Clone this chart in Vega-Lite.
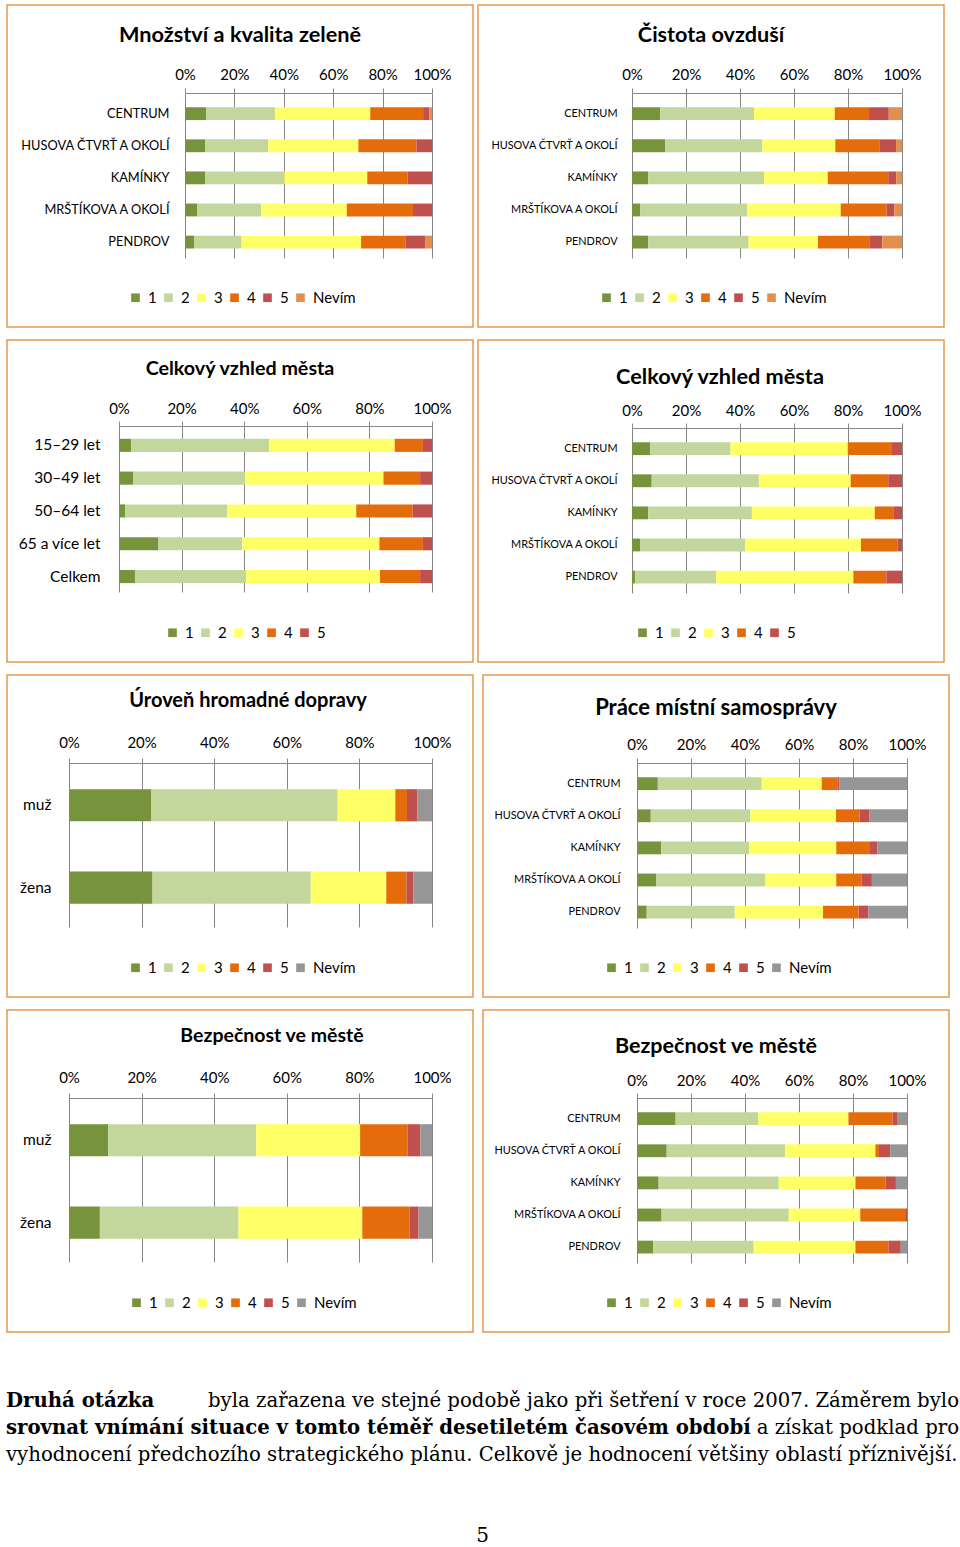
{
  "$schema": "https://vega.github.io/schema/vega-lite/v6.json",
  "padding": {"left": 6, "top": 4, "right": 0, "bottom": 0},
  "spacing": 11,
  "resolve": {"scale": {"color": "independent", "x": "independent", "y": "independent"}, "legend": {"color": "independent"}},
  "config": {
    "font": "Lato",
    "view": {"stroke": "#E39B50", "strokeWidth": 1.5},
    "axis": {"labelFont": "Lato", "labelColor": "#000000", "gridColor": "#868686", "domainColor": "#868686", "tickColor": "#868686", "labelFlush": false, "labelOverlap": false},
    "legend": {"labelFont": "Lato", "labelColor": "#000000"},
    "title": {"font": "Lato", "fontWeight": "bold", "color": "#000000", "anchor": "middle", "frame": "group", "baseline": "alphabetic"}
  },
  "vconcat": [
    {
      "bounds": "flush",
      "spacing": 5,
      "resolve": {"scale": {"color": "independent", "x": "independent", "y": "independent"}, "legend": {"color": "independent"}},
      "hconcat": [
        {
          "width": 466, "height": 322,
          "title": {"text": "Množství a kvalita zeleně", "fontSize": 21.7, "offset": -42},
          "data": {"values": [
            {"c": "CENTRUM", "k": "1", "v": 8.6}, {"c": "CENTRUM", "k": "2", "v": 27.8}, {"c": "CENTRUM", "k": "3", "v": 38.6}, {"c": "CENTRUM", "k": "4", "v": 21.4}, {"c": "CENTRUM", "k": "5", "v": 2.5}, {"c": "CENTRUM", "k": "Nevím", "v": 1.1},
            {"c": "HUSOVA ČTVRŤ A OKOLÍ", "k": "1", "v": 8.1}, {"c": "HUSOVA ČTVRŤ A OKOLÍ", "k": "2", "v": 25.6}, {"c": "HUSOVA ČTVRŤ A OKOLÍ", "k": "3", "v": 36.5}, {"c": "HUSOVA ČTVRŤ A OKOLÍ", "k": "4", "v": 23.5}, {"c": "HUSOVA ČTVRŤ A OKOLÍ", "k": "5", "v": 6.3},
            {"c": "KAMÍNKY", "k": "1", "v": 8.1}, {"c": "KAMÍNKY", "k": "2", "v": 32.1}, {"c": "KAMÍNKY", "k": "3", "v": 33.6}, {"c": "KAMÍNKY", "k": "4", "v": 16.3}, {"c": "KAMÍNKY", "k": "5", "v": 9.9},
            {"c": "MRŠTÍKOVA A OKOLÍ", "k": "1", "v": 5.0}, {"c": "MRŠTÍKOVA A OKOLÍ", "k": "2", "v": 25.8}, {"c": "MRŠTÍKOVA A OKOLÍ", "k": "3", "v": 34.7}, {"c": "MRŠTÍKOVA A OKOLÍ", "k": "4", "v": 26.8}, {"c": "MRŠTÍKOVA A OKOLÍ", "k": "5", "v": 7.7},
            {"c": "PENDROV", "k": "1", "v": 3.8}, {"c": "PENDROV", "k": "2", "v": 19.1}, {"c": "PENDROV", "k": "3", "v": 48.4}, {"c": "PENDROV", "k": "4", "v": 17.9}, {"c": "PENDROV", "k": "5", "v": 8.2}, {"c": "PENDROV", "k": "Nevím", "v": 2.6}
          ]},
          "mark": {"type": "bar"},
          "encoding": {
            "y": {"field": "c", "type": "nominal", "sort": ["CENTRUM", "HUSOVA ČTVRŤ A OKOLÍ", "KAMÍNKY", "MRŠTÍKOVA A OKOLÍ", "PENDROV"],
                  "scale": {"range": [88, 253], "paddingInner": 0.6, "paddingOuter": 0.37, "align": 0.6},
                  "axis": {"orient": "left", "offset": -162, "ticks": false, "tickSize": 0, "domain": false, "labelPadding": 0, "labelFontSize": 12.8, "labelLimit": 0, "title": null, "grid": false}},
            "x": {"field": "v", "type": "quantitative", "stack": "normalize",
                  "scale": {"domain": [0, 1], "range": [178, 425], "nice": false},
                  "axis": {"orient": "top", "offset": -88, "values": [0, 0.2, 0.4, 0.6, 0.8, 1], "format": ".0%", "tickSize": 5, "labelPadding": 5.5, "labelFontSize": 15, "grid": true, "title": null}},
            "color": {"field": "k", "type": "nominal",
                      "scale": {"domain": ["1", "2", "3", "4", "5", "Nevím"], "range": ["#77933C", "#C3D69B", "#FFFF66", "#E46C0A", "#C0504D", "#E0914F"]},
                      "legend": {"orient": "none", "legendX": 121, "legendY": 285, "direction": "horizontal", "title": null, "symbolType": "square", "symbolSize": 75, "symbolStrokeWidth": 0, "labelFontSize": 15, "labelOffset": 5, "columnPadding": 4, "padding": 0}},
            "order": {"field": "k", "type": "ordinal", "sort": "ascending"}
          }
        },
        {
          "width": 466, "height": 322,
          "title": {"text": "Čistota ovzduší", "fontSize": 21.6, "offset": -42},
          "data": {"values": [
            {"c": "CENTRUM", "k": "1", "v": 10.5}, {"c": "CENTRUM", "k": "2", "v": 34.7}, {"c": "CENTRUM", "k": "3", "v": 29.9}, {"c": "CENTRUM", "k": "4", "v": 12.7}, {"c": "CENTRUM", "k": "5", "v": 7.3}, {"c": "CENTRUM", "k": "Nevím", "v": 4.9},
            {"c": "HUSOVA ČTVRŤ A OKOLÍ", "k": "1", "v": 12.3}, {"c": "HUSOVA ČTVRŤ A OKOLÍ", "k": "2", "v": 36.0}, {"c": "HUSOVA ČTVRŤ A OKOLÍ", "k": "3", "v": 27.0}, {"c": "HUSOVA ČTVRŤ A OKOLÍ", "k": "4", "v": 16.3}, {"c": "HUSOVA ČTVRŤ A OKOLÍ", "k": "5", "v": 6.2}, {"c": "HUSOVA ČTVRŤ A OKOLÍ", "k": "Nevím", "v": 2.2},
            {"c": "KAMÍNKY", "k": "1", "v": 6.0}, {"c": "KAMÍNKY", "k": "2", "v": 42.9}, {"c": "KAMÍNKY", "k": "3", "v": 23.6}, {"c": "KAMÍNKY", "k": "4", "v": 22.4}, {"c": "KAMÍNKY", "k": "5", "v": 3.0}, {"c": "KAMÍNKY", "k": "Nevím", "v": 2.1},
            {"c": "MRŠTÍKOVA A OKOLÍ", "k": "1", "v": 3.0}, {"c": "MRŠTÍKOVA A OKOLÍ", "k": "2", "v": 39.6}, {"c": "MRŠTÍKOVA A OKOLÍ", "k": "3", "v": 34.7}, {"c": "MRŠTÍKOVA A OKOLÍ", "k": "4", "v": 17.0}, {"c": "MRŠTÍKOVA A OKOLÍ", "k": "5", "v": 2.9}, {"c": "MRŠTÍKOVA A OKOLÍ", "k": "Nevím", "v": 2.8},
            {"c": "PENDROV", "k": "1", "v": 6.0}, {"c": "PENDROV", "k": "2", "v": 37.2}, {"c": "PENDROV", "k": "3", "v": 25.7}, {"c": "PENDROV", "k": "4", "v": 19.2}, {"c": "PENDROV", "k": "5", "v": 4.6}, {"c": "PENDROV", "k": "Nevím", "v": 7.3}
          ]},
          "mark": {"type": "bar"},
          "encoding": {
            "y": {"field": "c", "type": "nominal", "sort": ["CENTRUM", "HUSOVA ČTVRŤ A OKOLÍ", "KAMÍNKY", "MRŠTÍKOVA A OKOLÍ", "PENDROV"],
                  "scale": {"range": [88, 253], "paddingInner": 0.6, "paddingOuter": 0.37, "align": 0.6},
                  "axis": {"orient": "left", "offset": -139, "ticks": false, "tickSize": 0, "domain": false, "labelPadding": 0, "labelFontSize": 10.9, "labelLimit": 0, "title": null, "grid": false}},
            "x": {"field": "v", "type": "quantitative", "stack": "normalize",
                  "scale": {"domain": [0, 1], "range": [154, 424], "nice": false},
                  "axis": {"orient": "top", "offset": -88, "values": [0, 0.2, 0.4, 0.6, 0.8, 1], "format": ".0%", "tickSize": 5, "labelPadding": 5.5, "labelFontSize": 15, "grid": true, "title": null}},
            "color": {"field": "k", "type": "nominal",
                      "scale": {"domain": ["1", "2", "3", "4", "5", "Nevím"], "range": ["#77933C", "#C3D69B", "#FFFF66", "#E46C0A", "#C0504D", "#E0914F"]},
                      "legend": {"orient": "none", "legendX": 121, "legendY": 285, "direction": "horizontal", "title": null, "symbolType": "square", "symbolSize": 75, "symbolStrokeWidth": 0, "labelFontSize": 15, "labelOffset": 5, "columnPadding": 4, "padding": 0}},
            "order": {"field": "k", "type": "ordinal", "sort": "ascending"}
          }
        }
      ]
    },
    {
      "bounds": "flush",
      "spacing": 5,
      "resolve": {"scale": {"color": "independent", "x": "independent", "y": "independent"}, "legend": {"color": "independent"}},
      "hconcat": [
        {
          "width": 466, "height": 322,
          "title": {"text": "Celkový vzhled města", "fontSize": 19.7, "offset": -39},
          "data": {"values": [
            {"c": "15–29 let", "k": "1", "v": 3.9}, {"c": "15–29 let", "k": "2", "v": 44.0}, {"c": "15–29 let", "k": "3", "v": 40.2}, {"c": "15–29 let", "k": "4", "v": 9.0}, {"c": "15–29 let", "k": "5", "v": 2.9},
            {"c": "30–49 let", "k": "1", "v": 4.6}, {"c": "30–49 let", "k": "2", "v": 35.7}, {"c": "30–49 let", "k": "3", "v": 44.2}, {"c": "30–49 let", "k": "4", "v": 11.7}, {"c": "30–49 let", "k": "5", "v": 3.8},
            {"c": "50–64 let", "k": "1", "v": 2.0}, {"c": "50–64 let", "k": "2", "v": 32.6}, {"c": "50–64 let", "k": "3", "v": 41.2}, {"c": "50–64 let", "k": "4", "v": 18.0}, {"c": "50–64 let", "k": "5", "v": 6.2},
            {"c": "65 a více let", "k": "1", "v": 12.6}, {"c": "65 a více let", "k": "2", "v": 26.8}, {"c": "65 a více let", "k": "3", "v": 43.8}, {"c": "65 a více let", "k": "4", "v": 13.9}, {"c": "65 a více let", "k": "5", "v": 2.9},
            {"c": "Celkem", "k": "1", "v": 5.1}, {"c": "Celkem", "k": "2", "v": 35.5}, {"c": "Celkem", "k": "3", "v": 42.8}, {"c": "Celkem", "k": "4", "v": 12.8}, {"c": "Celkem", "k": "5", "v": 3.8}
          ]},
          "mark": {"type": "bar"},
          "encoding": {
            "y": {"field": "c", "type": "nominal", "sort": ["15–29 let", "30–49 let", "50–64 let", "65 a více let", "Celkem"],
                  "scale": {"range": [86, 252], "paddingInner": 0.6, "paddingOuter": 0.33, "align": 0.59},
                  "axis": {"orient": "left", "offset": -93, "ticks": false, "tickSize": 0, "domain": false, "labelPadding": 0, "labelFontSize": 15.5, "labelLimit": 0, "title": null, "grid": false}},
            "x": {"field": "v", "type": "quantitative", "stack": "normalize",
                  "scale": {"domain": [0, 1], "range": [112, 425], "nice": false},
                  "axis": {"orient": "top", "offset": -86, "values": [0, 0.2, 0.4, 0.6, 0.8, 1], "format": ".0%", "tickSize": 5, "labelPadding": 5, "labelFontSize": 15, "grid": true, "title": null}},
            "color": {"field": "k", "type": "nominal",
                      "scale": {"domain": ["1", "2", "3", "4", "5"], "range": ["#77933C", "#C3D69B", "#FFFF66", "#E46C0A", "#C0504D"]},
                      "legend": {"orient": "none", "legendX": 158, "legendY": 285, "direction": "horizontal", "title": null, "symbolType": "square", "symbolSize": 75, "symbolStrokeWidth": 0, "labelFontSize": 15, "labelOffset": 5, "columnPadding": 4, "padding": 0}},
            "order": {"field": "k", "type": "ordinal", "sort": "ascending"}
          }
        },
        {
          "width": 466, "height": 322,
          "title": {"text": "Celkový vzhled města", "fontSize": 21.7, "offset": -48.5, "dx": 9},
          "data": {"values": [
            {"c": "CENTRUM", "k": "1", "v": 6.7}, {"c": "CENTRUM", "k": "2", "v": 29.8}, {"c": "CENTRUM", "k": "3", "v": 43.4}, {"c": "CENTRUM", "k": "4", "v": 16.4}, {"c": "CENTRUM", "k": "5", "v": 3.7},
            {"c": "HUSOVA ČTVRŤ A OKOLÍ", "k": "1", "v": 7.3}, {"c": "HUSOVA ČTVRŤ A OKOLÍ", "k": "2", "v": 39.7}, {"c": "HUSOVA ČTVRŤ A OKOLÍ", "k": "3", "v": 34.0}, {"c": "HUSOVA ČTVRŤ A OKOLÍ", "k": "4", "v": 13.9}, {"c": "HUSOVA ČTVRŤ A OKOLÍ", "k": "5", "v": 5.1},
            {"c": "KAMÍNKY", "k": "1", "v": 6.0}, {"c": "KAMÍNKY", "k": "2", "v": 38.4}, {"c": "KAMÍNKY", "k": "3", "v": 45.5}, {"c": "KAMÍNKY", "k": "4", "v": 7.1}, {"c": "KAMÍNKY", "k": "5", "v": 3.0},
            {"c": "MRŠTÍKOVA A OKOLÍ", "k": "1", "v": 3.1}, {"c": "MRŠTÍKOVA A OKOLÍ", "k": "2", "v": 38.8}, {"c": "MRŠTÍKOVA A OKOLÍ", "k": "3", "v": 42.9}, {"c": "MRŠTÍKOVA A OKOLÍ", "k": "4", "v": 13.5}, {"c": "MRŠTÍKOVA A OKOLÍ", "k": "5", "v": 1.7},
            {"c": "PENDROV", "k": "1", "v": 1.1}, {"c": "PENDROV", "k": "2", "v": 30.1}, {"c": "PENDROV", "k": "3", "v": 50.8}, {"c": "PENDROV", "k": "4", "v": 12.2}, {"c": "PENDROV", "k": "5", "v": 5.8}
          ]},
          "mark": {"type": "bar"},
          "encoding": {
            "y": {"field": "c", "type": "nominal", "sort": ["CENTRUM", "HUSOVA ČTVRŤ A OKOLÍ", "KAMÍNKY", "MRŠTÍKOVA A OKOLÍ", "PENDROV"],
                  "scale": {"range": [88, 253], "paddingInner": 0.6, "paddingOuter": 0.37, "align": 0.6},
                  "axis": {"orient": "left", "offset": -139, "ticks": false, "tickSize": 0, "domain": false, "labelPadding": 0, "labelFontSize": 10.9, "labelLimit": 0, "title": null, "grid": false}},
            "x": {"field": "v", "type": "quantitative", "stack": "normalize",
                  "scale": {"domain": [0, 1], "range": [154, 424], "nice": false},
                  "axis": {"orient": "top", "offset": -88, "values": [0, 0.2, 0.4, 0.6, 0.8, 1], "format": ".0%", "tickSize": 5, "labelPadding": 5, "labelFontSize": 15, "grid": true, "title": null}},
            "color": {"field": "k", "type": "nominal",
                      "scale": {"domain": ["1", "2", "3", "4", "5"], "range": ["#77933C", "#C3D69B", "#FFFF66", "#E46C0A", "#C0504D"]},
                      "legend": {"orient": "none", "legendX": 157, "legendY": 285, "direction": "horizontal", "title": null, "symbolType": "square", "symbolSize": 75, "symbolStrokeWidth": 0, "labelFontSize": 15, "labelOffset": 5, "columnPadding": 4, "padding": 0}},
            "order": {"field": "k", "type": "ordinal", "sort": "ascending"}
          }
        }
      ]
    },
    {
      "bounds": "flush",
      "spacing": 10,
      "resolve": {"scale": {"color": "independent", "x": "independent", "y": "independent"}, "legend": {"color": "independent"}},
      "hconcat": [
        {
          "width": 466, "height": 322,
          "title": {"text": "Úroveň hromadné dopravy", "fontSize": 20, "offset": -36, "dx": 8},
          "data": {"values": [
            {"c": "muž", "k": "1", "v": 22.7}, {"c": "muž", "k": "2", "v": 51.3}, {"c": "muž", "k": "3", "v": 15.9}, {"c": "muž", "k": "4", "v": 3.2}, {"c": "muž", "k": "5", "v": 2.9}, {"c": "muž", "k": "Nevím", "v": 4.0},
            {"c": "žena", "k": "1", "v": 23.0}, {"c": "žena", "k": "2", "v": 43.6}, {"c": "žena", "k": "3", "v": 20.8}, {"c": "žena", "k": "4", "v": 5.6}, {"c": "žena", "k": "5", "v": 1.9}, {"c": "žena", "k": "Nevím", "v": 5.1}
          ]},
          "mark": {"type": "bar"},
          "encoding": {
            "y": {"field": "c", "type": "nominal", "sort": ["muž", "žena"],
                  "scale": {"range": [88, 252], "paddingInner": 0.61, "paddingOuter": 0.3, "align": 0.53},
                  "axis": {"orient": "left", "offset": -44, "ticks": false, "tickSize": 0, "domain": false, "labelPadding": 0, "labelFontSize": 15.5, "labelLimit": 0, "title": null, "grid": false}},
            "x": {"field": "v", "type": "quantitative", "stack": "normalize",
                  "scale": {"domain": [0, 1], "range": [62, 425], "nice": false},
                  "axis": {"orient": "top", "offset": -88, "values": [0, 0.2, 0.4, 0.6, 0.8, 1], "format": ".0%", "tickSize": 5, "labelPadding": 7.5, "labelFontSize": 15, "grid": true, "title": null}},
            "color": {"field": "k", "type": "nominal",
                      "scale": {"domain": ["1", "2", "3", "4", "5", "Nevím"], "range": ["#77933C", "#C3D69B", "#FFFF66", "#E46C0A", "#C0504D", "#969696"]},
                      "legend": {"orient": "none", "legendX": 121, "legendY": 285, "direction": "horizontal", "title": null, "symbolType": "square", "symbolSize": 75, "symbolStrokeWidth": 0, "labelFontSize": 15, "labelOffset": 5, "columnPadding": 4, "padding": 0}},
            "order": {"field": "k", "type": "ordinal", "sort": "ascending"}
          }
        },
        {
          "width": 466, "height": 322,
          "title": {"text": "Práce místní samosprávy", "fontSize": 22, "offset": -45},
          "data": {"values": [
            {"c": "CENTRUM", "k": "1", "v": 7.7}, {"c": "CENTRUM", "k": "2", "v": 38.5}, {"c": "CENTRUM", "k": "3", "v": 22.2}, {"c": "CENTRUM", "k": "4", "v": 5.8}, {"c": "CENTRUM", "k": "5", "v": 0.7}, {"c": "CENTRUM", "k": "Nevím", "v": 25.1},
            {"c": "HUSOVA ČTVRŤ A OKOLÍ", "k": "1", "v": 5.1}, {"c": "HUSOVA ČTVRŤ A OKOLÍ", "k": "2", "v": 36.9}, {"c": "HUSOVA ČTVRŤ A OKOLÍ", "k": "3", "v": 31.7}, {"c": "HUSOVA ČTVRŤ A OKOLÍ", "k": "4", "v": 8.8}, {"c": "HUSOVA ČTVRŤ A OKOLÍ", "k": "5", "v": 3.5}, {"c": "HUSOVA ČTVRŤ A OKOLÍ", "k": "Nevím", "v": 14.0},
            {"c": "KAMÍNKY", "k": "1", "v": 9.0}, {"c": "KAMÍNKY", "k": "2", "v": 32.5}, {"c": "KAMÍNKY", "k": "3", "v": 32.3}, {"c": "KAMÍNKY", "k": "4", "v": 12.2}, {"c": "KAMÍNKY", "k": "5", "v": 3.0}, {"c": "KAMÍNKY", "k": "Nevím", "v": 11.0},
            {"c": "MRŠTÍKOVA A OKOLÍ", "k": "1", "v": 7.2}, {"c": "MRŠTÍKOVA A OKOLÍ", "k": "2", "v": 40.3}, {"c": "MRŠTÍKOVA A OKOLÍ", "k": "3", "v": 26.3}, {"c": "MRŠTÍKOVA A OKOLÍ", "k": "4", "v": 9.3}, {"c": "MRŠTÍKOVA A OKOLÍ", "k": "5", "v": 3.9}, {"c": "MRŠTÍKOVA A OKOLÍ", "k": "Nevím", "v": 13.0},
            {"c": "PENDROV", "k": "1", "v": 3.6}, {"c": "PENDROV", "k": "2", "v": 32.6}, {"c": "PENDROV", "k": "3", "v": 32.7}, {"c": "PENDROV", "k": "4", "v": 13.2}, {"c": "PENDROV", "k": "5", "v": 3.6}, {"c": "PENDROV", "k": "Nevím", "v": 14.3}
          ]},
          "mark": {"type": "bar"},
          "encoding": {
            "y": {"field": "c", "type": "nominal", "sort": ["CENTRUM", "HUSOVA ČTVRŤ A OKOLÍ", "KAMÍNKY", "MRŠTÍKOVA A OKOLÍ", "PENDROV"],
                  "scale": {"range": [88, 253], "paddingInner": 0.6, "paddingOuter": 0.37, "align": 0.6},
                  "axis": {"orient": "left", "offset": -137, "ticks": false, "tickSize": 0, "domain": false, "labelPadding": 0, "labelFontSize": 10.9, "labelLimit": 0, "title": null, "grid": false}},
            "x": {"field": "v", "type": "quantitative", "stack": "normalize",
                  "scale": {"domain": [0, 1], "range": [154, 424], "nice": false},
                  "axis": {"orient": "top", "offset": -88, "values": [0, 0.2, 0.4, 0.6, 0.8, 1], "format": ".0%", "tickSize": 5, "labelPadding": 5.5, "labelFontSize": 15, "grid": true, "title": null}},
            "color": {"field": "k", "type": "nominal",
                      "scale": {"domain": ["1", "2", "3", "4", "5", "Nevím"], "range": ["#77933C", "#C3D69B", "#FFFF66", "#E46C0A", "#C0504D", "#969696"]},
                      "legend": {"orient": "none", "legendX": 121, "legendY": 285, "direction": "horizontal", "title": null, "symbolType": "square", "symbolSize": 75, "symbolStrokeWidth": 0, "labelFontSize": 15, "labelOffset": 5, "columnPadding": 4, "padding": 0}},
            "order": {"field": "k", "type": "ordinal", "sort": "ascending"}
          }
        }
      ]
    },
    {
      "bounds": "flush",
      "spacing": 10,
      "resolve": {"scale": {"color": "independent", "x": "independent", "y": "independent"}, "legend": {"color": "independent"}},
      "hconcat": [
        {
          "width": 466, "height": 322,
          "title": {"text": "Bezpečnost ve městě", "fontSize": 19.5, "offset": -36, "dx": 32},
          "data": {"values": [
            {"c": "muž", "k": "1", "v": 10.8}, {"c": "muž", "k": "2", "v": 40.8}, {"c": "muž", "k": "3", "v": 28.6}, {"c": "muž", "k": "4", "v": 13.1}, {"c": "muž", "k": "5", "v": 3.5}, {"c": "muž", "k": "Nevím", "v": 3.2},
            {"c": "žena", "k": "1", "v": 8.5}, {"c": "žena", "k": "2", "v": 38.2}, {"c": "žena", "k": "3", "v": 34.1}, {"c": "žena", "k": "4", "v": 13.0}, {"c": "žena", "k": "5", "v": 2.5}, {"c": "žena", "k": "Nevím", "v": 3.7}
          ]},
          "mark": {"type": "bar"},
          "encoding": {
            "y": {"field": "c", "type": "nominal", "sort": ["muž", "žena"],
                  "scale": {"range": [88, 252], "paddingInner": 0.61, "paddingOuter": 0.3, "align": 0.53},
                  "axis": {"orient": "left", "offset": -44, "ticks": false, "tickSize": 0, "domain": false, "labelPadding": 0, "labelFontSize": 15.5, "labelLimit": 0, "title": null, "grid": false}},
            "x": {"field": "v", "type": "quantitative", "stack": "normalize",
                  "scale": {"domain": [0, 1], "range": [62, 425], "nice": false},
                  "axis": {"orient": "top", "offset": -88, "values": [0, 0.2, 0.4, 0.6, 0.8, 1], "format": ".0%", "tickSize": 5, "labelPadding": 7.5, "labelFontSize": 15, "grid": true, "title": null}},
            "color": {"field": "k", "type": "nominal",
                      "scale": {"domain": ["1", "2", "3", "4", "5", "Nevím"], "range": ["#77933C", "#C3D69B", "#FFFF66", "#E46C0A", "#C0504D", "#969696"]},
                      "legend": {"orient": "none", "legendX": 122, "legendY": 285, "direction": "horizontal", "title": null, "symbolType": "square", "symbolSize": 75, "symbolStrokeWidth": 0, "labelFontSize": 15, "labelOffset": 5, "columnPadding": 4, "padding": 0}},
            "order": {"field": "k", "type": "ordinal", "sort": "ascending"}
          }
        },
        {
          "width": 466, "height": 322,
          "title": {"text": "Bezpečnost ve městě", "fontSize": 21.5, "offset": -47},
          "data": {"values": [
            {"c": "CENTRUM", "k": "1", "v": 14.3}, {"c": "CENTRUM", "k": "2", "v": 30.6}, {"c": "CENTRUM", "k": "3", "v": 33.4}, {"c": "CENTRUM", "k": "4", "v": 16.4}, {"c": "CENTRUM", "k": "5", "v": 1.6}, {"c": "CENTRUM", "k": "Nevím", "v": 3.7},
            {"c": "HUSOVA ČTVRŤ A OKOLÍ", "k": "1", "v": 11.0}, {"c": "HUSOVA ČTVRŤ A OKOLÍ", "k": "2", "v": 43.8}, {"c": "HUSOVA ČTVRŤ A OKOLÍ", "k": "3", "v": 33.5}, {"c": "HUSOVA ČTVRŤ A OKOLÍ", "k": "4", "v": 1.3}, {"c": "HUSOVA ČTVRŤ A OKOLÍ", "k": "5", "v": 4.2}, {"c": "HUSOVA ČTVRŤ A OKOLÍ", "k": "Nevím", "v": 6.2},
            {"c": "KAMÍNKY", "k": "1", "v": 8.0}, {"c": "KAMÍNKY", "k": "2", "v": 44.5}, {"c": "KAMÍNKY", "k": "3", "v": 28.4}, {"c": "KAMÍNKY", "k": "4", "v": 11.2}, {"c": "KAMÍNKY", "k": "5", "v": 3.8}, {"c": "KAMÍNKY", "k": "Nevím", "v": 4.1},
            {"c": "MRŠTÍKOVA A OKOLÍ", "k": "1", "v": 9.1}, {"c": "MRŠTÍKOVA A OKOLÍ", "k": "2", "v": 47.1}, {"c": "MRŠTÍKOVA A OKOLÍ", "k": "3", "v": 26.5}, {"c": "MRŠTÍKOVA A OKOLÍ", "k": "4", "v": 16.6}, {"c": "MRŠTÍKOVA A OKOLÍ", "k": "5", "v": 0.7},
            {"c": "PENDROV", "k": "1", "v": 6.0}, {"c": "PENDROV", "k": "2", "v": 37.2}, {"c": "PENDROV", "k": "3", "v": 37.7}, {"c": "PENDROV", "k": "4", "v": 12.2}, {"c": "PENDROV", "k": "5", "v": 4.6}, {"c": "PENDROV", "k": "Nevím", "v": 2.3}
          ]},
          "mark": {"type": "bar"},
          "encoding": {
            "y": {"field": "c", "type": "nominal", "sort": ["CENTRUM", "HUSOVA ČTVRŤ A OKOLÍ", "KAMÍNKY", "MRŠTÍKOVA A OKOLÍ", "PENDROV"],
                  "scale": {"range": [88, 253], "paddingInner": 0.6, "paddingOuter": 0.37, "align": 0.6},
                  "axis": {"orient": "left", "offset": -137, "ticks": false, "tickSize": 0, "domain": false, "labelPadding": 0, "labelFontSize": 10.9, "labelLimit": 0, "title": null, "grid": false}},
            "x": {"field": "v", "type": "quantitative", "stack": "normalize",
                  "scale": {"domain": [0, 1], "range": [154, 424], "nice": false},
                  "axis": {"orient": "top", "offset": -88, "values": [0, 0.2, 0.4, 0.6, 0.8, 1], "format": ".0%", "tickSize": 5, "labelPadding": 5, "labelFontSize": 15, "grid": true, "title": null}},
            "color": {"field": "k", "type": "nominal",
                      "scale": {"domain": ["1", "2", "3", "4", "5", "Nevím"], "range": ["#77933C", "#C3D69B", "#FFFF66", "#E46C0A", "#C0504D", "#969696"]},
                      "legend": {"orient": "none", "legendX": 121, "legendY": 285, "direction": "horizontal", "title": null, "symbolType": "square", "symbolSize": 75, "symbolStrokeWidth": 0, "labelFontSize": 15, "labelOffset": 5, "columnPadding": 4, "padding": 0}},
            "order": {"field": "k", "type": "ordinal", "sort": "ascending"}
          }
        }
      ]
    },
    {
      "width": 946, "height": 200,
      "view": {"stroke": null},
      "data": {"values": [
        {"line": 1, "part": "bold", "text": "Druhá otázka"},
        {"line": 1, "part": "right", "text": "byla zařazena ve stejné podobě jako při šetření v roce 2007. Záměrem bylo"},
        {"line": 2, "part": "bold", "text": "srovnat vnímání situace v tomto téměř desetiletém časovém období"},
        {"line": 2, "part": "right", "text": "a získat podklad pro"},
        {"line": 3, "part": "left", "text": "vyhodnocení předchozího strategického plánu. Celkově je hodnocení většiny oblastí příznivější."},
        {"line": 6, "part": "center", "text": "5"}
      ]},
      "encoding": {
        "y": {"field": "line", "type": "quantitative", "scale": {"domain": [1, 6], "range": [57, 192]}, "axis": null},
        "text": {"field": "text"}
      },
      "layer": [
        {
          "transform": [{"filter": "datum.part === 'bold'"}],
          "mark": {"type": "text", "align": "left", "baseline": "middle", "font": "DejaVu Serif", "fontSize": 19.7, "fontWeight": "bold", "color": "#000000"},
          "encoding": {"x": {"datum": 0, "type": "quantitative", "scale": {"domain": [0, 1], "range": [-1, 952]}, "axis": null}}
        },
        {
          "transform": [{"filter": "datum.part === 'left'"}],
          "mark": {"type": "text", "align": "left", "baseline": "middle", "font": "DejaVu Serif", "fontSize": 19.7, "color": "#000000"},
          "encoding": {"x": {"datum": 0, "type": "quantitative"}}
        },
        {
          "transform": [{"filter": "datum.part === 'right'"}],
          "mark": {"type": "text", "align": "right", "baseline": "middle", "font": "DejaVu Serif", "fontSize": 19.7, "color": "#000000"},
          "encoding": {"x": {"datum": 1, "type": "quantitative"}}
        },
        {
          "transform": [{"filter": "datum.part === 'center'"}],
          "mark": {"type": "text", "align": "center", "baseline": "middle", "font": "DejaVu Serif", "fontSize": 20, "color": "#000000"},
          "encoding": {"x": {"datum": 0.5, "type": "quantitative"}}
        }
      ]
    }
  ]
}
